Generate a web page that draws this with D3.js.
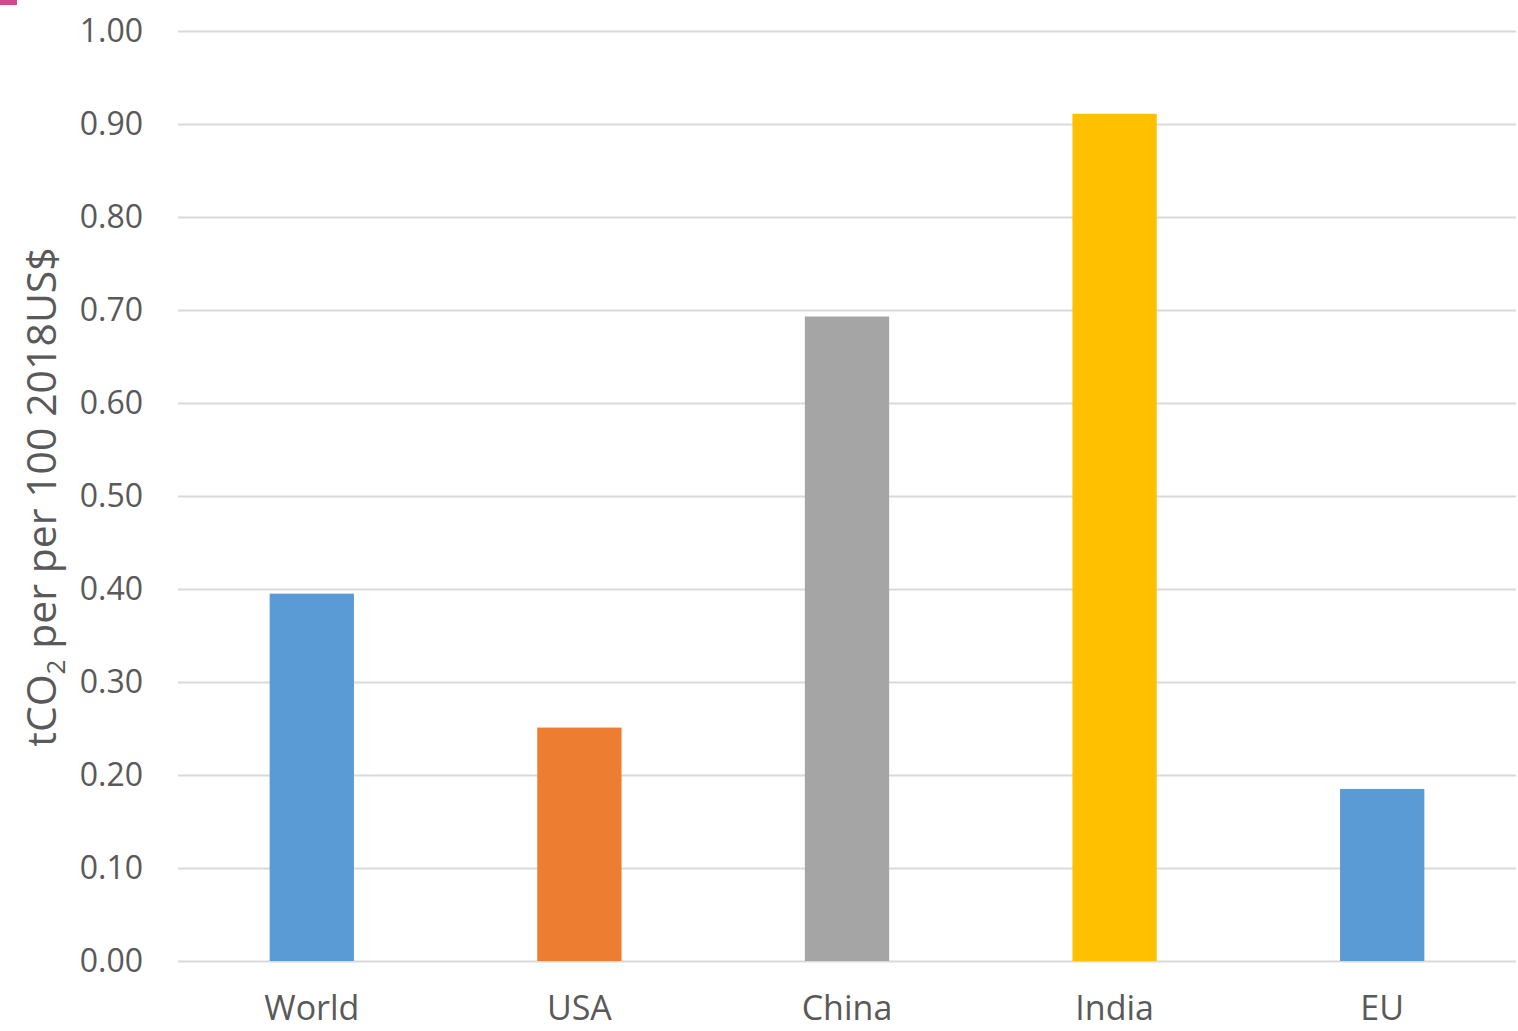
<!DOCTYPE html>
<html><head><meta charset="utf-8">
<script src="https://cdn.jsdelivr.net/npm/d3@7"></script>
<style>body{margin:0;background:#fff;} svg{display:block;}</style>
</head><body>
<svg id="c" width="1518" height="1031"></svg>
<script>
const categories = ["World", "USA", "China", "India", "EU"];
const values = [0.395, 0.251, 0.693, 0.911, 0.185];
const colors = ["#5B9BD5", "#ED7D31", "#A5A5A5", "#FFC000", "#5B9BD5"];
const yTicks = [0, 0.1, 0.2, 0.3, 0.4, 0.5, 0.6, 0.7, 0.8, 0.9, 1.0];

const svg = d3.select("#c");
const font = "'Open Sans', 'Liberation Sans', sans-serif";
const m = {left: 178, right: 1516, top: 31, bottom: 961};

const x = d3.scaleBand().domain(categories).range([m.left, m.right]).paddingInner(0.685).paddingOuter(0.3425);
const y = d3.scaleLinear().domain([0, 1]).range([m.bottom, m.top]);

// artifact mark top-left
svg.append("rect").attr("x", 0).attr("y", 0).attr("width", 17).attr("height", 5).attr("fill", "#c8287a").attr("opacity", 0.85);

// gridlines
svg.append("g").selectAll("line").data(yTicks).join("line")
  .attr("x1", m.left).attr("x2", m.right)
  .attr("y1", d => Math.round(y(d)) + 0.5).attr("y2", d => Math.round(y(d)) + 0.5)
  .attr("stroke", "#d9d9d9").attr("stroke-width", 2);

// y axis labels
const yAxis = d3.axisLeft(y).tickValues(yTicks).tickFormat(d3.format(".2f")).tickSize(0).tickPadding(0);
const gy = svg.append("g").attr("transform", `translate(143,0)`).call(yAxis);
gy.select(".domain").remove();
gy.selectAll("text").attr("font-family", font).attr("font-size", 32).attr("fill", "#595959");

// bars
svg.append("g").selectAll("rect").data(categories).join("rect")
  .attr("x", d => x(d)).attr("width", x.bandwidth())
  .attr("y", (d, i) => y(values[i])).attr("height", (d, i) => y(0) - y(values[i]))
  .attr("fill", (d, i) => colors[i]);

// x axis labels
const xAxis = d3.axisBottom(x).tickSize(0).tickPadding(0);
const gx = svg.append("g").attr("transform", `translate(0,996)`).call(xAxis);
gx.select(".domain").remove();
gx.selectAll("text").attr("font-family", font).attr("font-size", 34).attr("fill", "#595959").attr("dy", "0.71em");

// y title
const t = svg.append("text").attr("transform", "translate(56,497) rotate(-90)")
  .attr("text-anchor", "middle").attr("font-family", font).attr("font-size", 41).attr("fill", "#595959");
t.append("tspan").text("tCO");
t.append("tspan").text("2").attr("font-size", 26).attr("dy", 9);
t.append("tspan").text(" per per 100 2018US$").attr("dy", -9);
</script>
</body></html>
